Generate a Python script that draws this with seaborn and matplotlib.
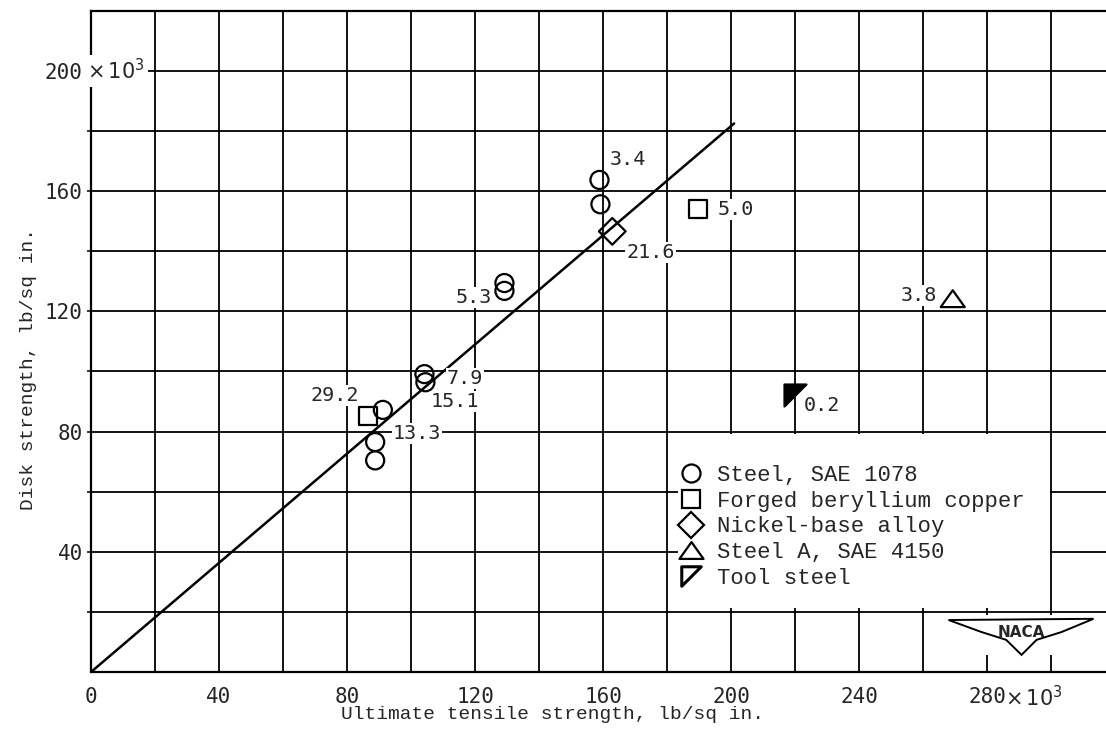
import numpy as np
import pandas as pd
import matplotlib.pyplot as plt
import seaborn as sns
from matplotlib.path import Path
from matplotlib.lines import Line2D
from matplotlib.patches import Rectangle, Polygon

# data (values in 10^3 lb/sq in.)
uts = [158.9, 159.2, 129.2, 129.2, 104.2, 104.5, 91.2, 88.8, 88.8,
       86.6, 189.7, 162.9, 269.3, 220.0]
disk = [163.7, 155.6, 129.4, 126.8, 99.1, 96.4, 87.2, 76.5, 70.4,
        85.1, 153.9, 146.6, 124.2, 92.2]
material = ["Steel, SAE 1078"] * 9 + ["Forged beryllium copper"] * 2 + \
           ["Nickel-base alloy", "Steel A, SAE 4150", "Tool steel"]
point_label = ["3.4", "", "", "5.3", "7.9", "15.1", "", "13.3", "",
               "29.2", "5.0", "21.6", "3.8", "0.2"]

# reference line through the origin
fit_x = [0, 201]
fit_y = [0, 182.5]

x_ticks = [0, 40, 80, 120, 160, 200, 240, 280]
y_ticks = [40, 80, 120, 160, 200]

df = pd.DataFrame({"uts": uts, "disk": disk, "material": material, "label": point_label})

sns.set_style("white")
plt.rcParams["font.family"] = ["Liberation Mono", "DejaVu Sans Mono"]
plt.rcParams["mathtext.fontset"] = "dejavusans"

tri = Path([(-1, -0.7), (1, -0.7), (0, 0.7), (-1, -0.7)], closed=True)
tool = Path([(-1, 1), (1, 1), (-1, -1), (-1, 1)], closed=True)
marker_map = {"Steel, SAE 1078": "o", "Forged beryllium copper": "s",
              "Nickel-base alloy": "D", "Steel A, SAE 4150": tri}
size_map = {"Steel, SAE 1078": 169, "Forged beryllium copper": 169,
            "Nickel-base alloy": 185, "Steel A, SAE 4150": 300}

fig = plt.figure(figsize=(11.06, 7.33), dpi=100)
ax = fig.add_axes([0.0823, 0.0832, 0.9177, 0.9022])

# fit line
sns.lineplot(x=fit_x, y=fit_y, color="black", linewidth=1.8, ax=ax, zorder=2)

open_df = df[df["material"] != "Tool steel"]
sns.scatterplot(data=open_df, x="uts", y="disk", style="material", markers=marker_map,
                size="material", sizes=size_map, facecolors="none", edgecolor="black",
                linewidth=1.6, legend=False, ax=ax, zorder=4)
tool_df = df[df["material"] == "Tool steel"]
sns.scatterplot(data=tool_df, x="uts", y="disk", marker=tool, s=250, color="black",
                edgecolor="black", linewidth=1.6, legend=False, ax=ax, zorder=4)

# point labels
offsets = {"3.4": (7, 14.5, "left"), "5.3": (-9, -4.5, "right"), "7.9": (16, -3, "left"),
           "15.1": (3.4, -14.2, "left"), "13.3": (12.5, 6, "left"), "29.2": (-6.7, 14.8, "right"),
           "5.0": (14, 0, "left"), "21.6": (10, -15, "left"), "3.8": (-11, 2.5, "right"),
           "0.2": (6, -8, "left")}
for _, r in df[df["label"] != ""].iterrows():
    dx, dy, ha = offsets[r["label"]]
    ax.annotate(r["label"], (r["uts"], r["disk"]), xytext=(dx, dy), textcoords="offset points",
                ha=ha, va="center", fontsize=14.5, family="DejaVu Sans Mono", zorder=3,
                bbox=dict(boxstyle="square,pad=0.05", fc="white", ec="none"))

# axes, grid
ax.set_xlim(0, 317.2)
ax.set_ylim(0, 220)
ax.set_xticks(x_ticks)
ax.set_xticklabels([str(v) for v in x_ticks])
ax.set_xticks(np.arange(20, 317, 40), minor=True)
ax.set_yticks(y_ticks)
ax.set_yticklabels([str(v) for v in y_ticks])
ax.set_yticks(np.arange(20, 220, 40), minor=True)
ax.grid(which="both", color="black", linewidth=1.3)
ax.set_axisbelow(True)
ax.tick_params(axis="x", which="both", length=0, pad=11, labelsize=15)
ax.tick_params(axis="y", which="both", length=3, width=1.3, pad=3, labelsize=15, left=True)
for t in ax.get_xticklabels() + ax.get_yticklabels():
    t.set_family("DejaVu Sans Mono")
for s in ["left", "top", "bottom"]:
    ax.spines[s].set_visible(True)
    ax.spines[s].set_color("black")
    ax.spines[s].set_linewidth(1.6)
ax.spines["right"].set_visible(False)

ax.text(-0.004, 200, r"$\times\,10^3$", transform=ax.get_yaxis_transform(), ha="left", va="center",
        fontsize=15, zorder=5, bbox=dict(boxstyle="square,pad=0.15", fc="white", ec="none"))
ax.text(285.5, -0.038, r"$\times\,10^3$", transform=ax.get_xaxis_transform(), ha="left", va="center",
        fontsize=15, clip_on=False)

ax.set_xlabel("Ultimate tensile strength, lb/sq in.", fontsize=14)
ax.set_ylabel("Disk strength, lb/sq in.", fontsize=14)
ax.xaxis.set_label_coords(0.455, -0.0635)
ax.xaxis.label.set_va("center")
ax.yaxis.set_label_coords(-0.062, 0.458)
ax.yaxis.label.set_va("center")

# legend on a white patch
ax.add_patch(Rectangle((183.5, 21.2), 116.2, 58.0, fc="white", ec="none", zorder=1.5))
handles = [Line2D([], [], ls="none", marker=marker_map[m], ms=np.sqrt(size_map[m]) * (0.95 if m == "Nickel-base alloy" else 1),
                  mfc="none", mec="black", mew=1.6) for m in marker_map]
handles.append(Line2D([], [], ls="none", marker=tool, ms=14, mfc="none", mec="black", mew=2.2))
labels = list(marker_map) + ["Tool steel"]
ax.legend(handles, labels, loc="upper left", bbox_to_anchor=(680 / 1106, 1 - 465 / 733),
          bbox_transform=fig.transFigure, frameon=False, fontsize=16, borderpad=0,
          handlelength=1.0, handletextpad=0.65, labelspacing=0.21, borderaxespad=0)

# NACA wing logo
ax.add_patch(Rectangle((265.5, 5.5), 52, 13.5, fc="white", ec="none", zorder=1.5))
wing = [(268, 17.3), (313.3, 17.7), (303.3, 13.3), (295.5, 10.7), (290.8, 5.7),
        (286, 10.7), (278.3, 13.3)]
ax.add_patch(Polygon(wing, closed=True, fc="white", ec="black", lw=1.4, zorder=5))
ax.text(290.8, 13.2, "NACA", ha="center", va="center", fontsize=11, fontweight="bold",
        family="DejaVu Sans", zorder=6)

fig.savefig("out.png", dpi=100)
